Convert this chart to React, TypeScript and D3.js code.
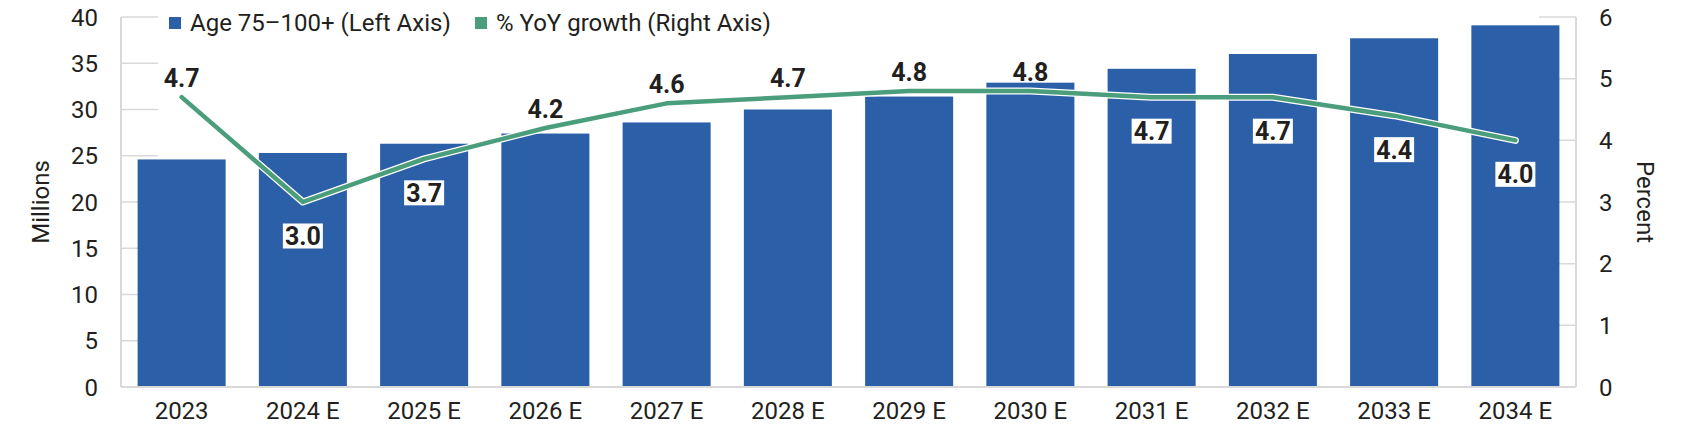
import React, { useEffect, useRef } from 'react';
import * as d3 from 'd3';

const years = ['2023', '2024 E', '2025 E', '2026 E', '2027 E', '2028 E', '2029 E', '2030 E', '2031 E', '2032 E', '2033 E', '2034 E'];
const population = [24.6, 25.3, 26.3, 27.4, 28.6, 30.0, 31.4, 32.9, 34.4, 36.0, 37.7, 39.1];
const growth = [4.7, 3.0, 3.7, 4.2, 4.6, 4.7, 4.8, 4.8, 4.7, 4.7, 4.4, 4.0];
const labelSide = ['above', 'below', 'below', 'above', 'above', 'above', 'above', 'above', 'below', 'below', 'below', 'below'];
const leftTicks = [0, 5, 10, 15, 20, 25, 30, 35, 40];
const rightTicks = [0, 1, 2, 3, 4, 5, 6];

const BLUE = '#2b5fa8';
const GREEN = '#4a9e7c';
const TEXT = '#231f20';
const GRID = '#d9d9d9';
const FONT = 'Roboto, "Noto Sans", sans-serif';

const W = 1681;
const H = 436;

const App: React.FC = () => {
  const svgRef = useRef<SVGSVGElement>(null);

  useEffect(() => {
    document.body.style.margin = '0';
    if (!svgRef.current) return;

    const margin = { top: 17, right: 105, bottom: 49, left: 121 };
    const svg = d3.select(svgRef.current);
    svg.selectAll('*').remove();

    const x = d3.scaleBand()
      .domain(years)
      .range([margin.left, W - margin.right])
      .paddingInner(0.274)
      .paddingOuter(0.137);

    const yL = d3.scaleLinear().domain([0, 40]).range([H - margin.bottom, margin.top]);
    const yR = d3.scaleLinear().domain([0, 6]).range([H - margin.bottom, margin.top]);

    // short tick stubs pointing into the plot on both axes
    const tickLen = 37;
    leftTicks.filter(t => t > 0).forEach(t => {
      svg.append('line')
        .attr('x1', margin.left).attr('x2', margin.left + tickLen)
        .attr('y1', yL(t)).attr('y2', yL(t))
        .attr('stroke', GRID).attr('stroke-width', 1.5);
    });
    rightTicks.filter(t => t > 0).forEach(t => {
      svg.append('line')
        .attr('x1', W - margin.right - tickLen).attr('x2', W - margin.right)
        .attr('y1', yR(t)).attr('y2', yR(t))
        .attr('stroke', GRID).attr('stroke-width', 1.5);
    });

    // Bars
    svg.append('g')
      .selectAll('rect')
      .data(population)
      .join('rect')
      .attr('x', (_, i) => x(years[i])!)
      .attr('y', d => yL(d))
      .attr('width', x.bandwidth())
      .attr('height', d => yL(0) - yL(d))
      .attr('fill', BLUE);

    // Axis lines
    svg.append('line')
      .attr('x1', margin.left).attr('x2', margin.left)
      .attr('y1', margin.top).attr('y2', H - margin.bottom)
      .attr('stroke', GRID).attr('stroke-width', 2);
    svg.append('line')
      .attr('x1', W - margin.right).attr('x2', W - margin.right)
      .attr('y1', margin.top).attr('y2', H - margin.bottom)
      .attr('stroke', GRID).attr('stroke-width', 2);
    svg.append('line')
      .attr('x1', margin.left).attr('x2', W - margin.right)
      .attr('y1', H - margin.bottom).attr('y2', H - margin.bottom)
      .attr('stroke', GRID).attr('stroke-width', 2);

    // Growth line with white halo
    const cx = (i: number) => x(years[i])! + x.bandwidth() / 2;
    const line = d3.line<number>()
      .x((_, i) => cx(i))
      .y(d => yR(d));

    svg.append('path')
      .datum(growth)
      .attr('d', line)
      .attr('fill', 'none')
      .attr('stroke', '#ffffff')
      .attr('stroke-width', 7)
      .attr('stroke-linejoin', 'round')
      .attr('stroke-linecap', 'round');
    svg.append('path')
      .datum(growth)
      .attr('d', line)
      .attr('fill', 'none')
      .attr('stroke', GREEN)
      .attr('stroke-width', 4.5)
      .attr('stroke-linejoin', 'round')
      .attr('stroke-linecap', 'round');

    // Data labels
    growth.forEach((g, i) => {
      const above = labelSide[i] === 'above';
      const cy = yR(g) + (above ? -19 : 34);
      const grp = svg.append('g');
      if (!above) {
        grp.append('rect')
          .attr('x', cx(i) - 20).attr('y', cy - 12.5)
          .attr('width', 40).attr('height', 25)
          .attr('fill', '#ffffff');
      }
      grp.append('text')
        .attr('x', cx(i)).attr('y', cy)
        .attr('dy', '0.36em')
        .attr('text-anchor', 'middle')
        .attr('font-family', FONT)
        .attr('font-weight', 'bold')
        .attr('font-size', 25)
        .attr('fill', TEXT)
        .text(g.toFixed(1));
    });

    // Left axis labels
    leftTicks.forEach(t => {
      svg.append('text')
        .attr('x', margin.left - 23).attr('y', yL(t))
        .attr('dy', '0.36em')
        .attr('text-anchor', 'end')
        .attr('font-family', FONT).attr('font-size', 24)
        .attr('fill', TEXT)
        .text(t);
    });

    // Right axis labels
    rightTicks.forEach(t => {
      svg.append('text')
        .attr('x', W - margin.right + 23).attr('y', yR(t))
        .attr('dy', '0.36em')
        .attr('text-anchor', 'start')
        .attr('font-family', FONT).attr('font-size', 24)
        .attr('fill', TEXT)
        .text(t);
    });

    // X labels
    years.forEach(yr => {
      svg.append('text')
        .attr('x', x(yr)! + x.bandwidth() / 2).attr('y', 419)
        .attr('text-anchor', 'middle')
        .attr('font-family', FONT).attr('font-size', 24)
        .attr('fill', TEXT)
        .text(yr);
    });

    // Axis titles
    svg.append('text')
      .attr('transform', `translate(40, ${(margin.top + H - margin.bottom) / 2}) rotate(-90)`)
      .attr('dy', '0.36em')
      .attr('text-anchor', 'middle')
      .attr('font-family', FONT).attr('font-size', 24)
      .attr('fill', TEXT)
      .text('Millions');
    svg.append('text')
      .attr('transform', `translate(1646, ${(margin.top + H - margin.bottom) / 2}) rotate(90)`)
      .attr('dy', '0.36em')
      .attr('text-anchor', 'middle')
      .attr('font-family', FONT).attr('font-size', 24)
      .attr('fill', TEXT)
      .text('Percent');

    // Legend
    const legend = [
      { label: 'Age 75–100+ (Left Axis)', color: BLUE, x: 169 },
      { label: '% YoY growth (Right Axis)', color: GREEN, x: 475 },
    ];
    legend.forEach(l => {
      svg.append('rect')
        .attr('x', l.x).attr('y', 17)
        .attr('width', 12).attr('height', 12)
        .attr('fill', l.color);
      svg.append('text')
        .attr('x', l.x + 21).attr('y', 31)
        .attr('font-family', FONT).attr('font-size', 24)
        .attr('fill', TEXT)
        .text(l.label);
    });
  }, []);

  return <svg ref={svgRef} width={W} height={H} style={{ display: 'block', background: '#ffffff' }} />;
};

export default App;
